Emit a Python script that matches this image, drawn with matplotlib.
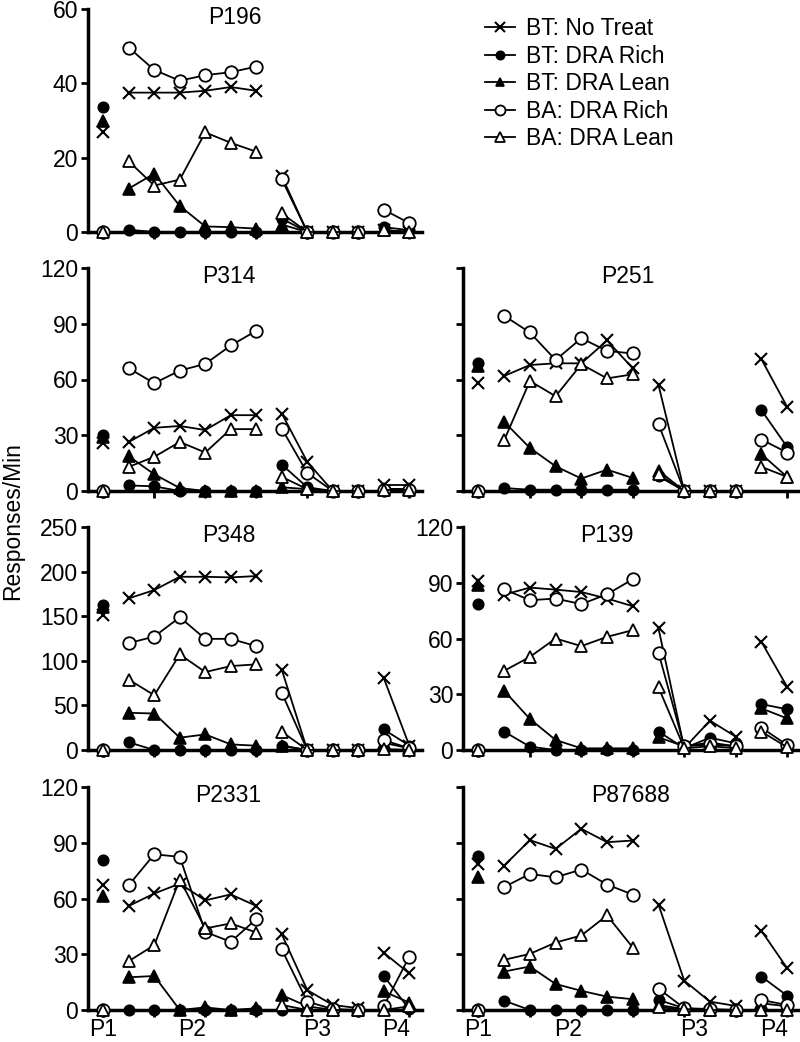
import matplotlib
matplotlib.use('Agg')
import numpy as np
import matplotlib.pyplot as plt
import matplotlib.transforms as mtransforms

plt.rcParams['font.family'] = ['Liberation Sans', 'DejaVu Sans']

# session index: P1 = 0, P2 = 1..6, P3 = 7..10, P4 = 11..12
sessions = np.arange(13)
phase_slices = [(0, 1), (1, 7), (7, 11), (11, 13)]
phase_labels = ['P1', 'P2', 'P3', 'P4']
phase_centers = [0, 3.5, 8.4, 11.5]

series_names = ['BT: No Treat', 'BT: DRA Rich', 'BT: DRA Lean', 'BA: DRA Rich', 'BA: DRA Lean']

p196 = {
    'BT: No Treat': [27, 37.5, 37.5, 37.5, 38, 39, 38, 15, 0, 0, 0, 0.5, 0],
    'BT: DRA Rich': [33.5, 0.6, 0, 0, 0, 0, 0, 3.6, 0, 0, 0, 1.3, 0.5],
    'BT: DRA Lean': [30, 11.7, 15.7, 7, 1.5, 1.3, 0.9, 2, 0, 0, 0, 0.5, 0],
    'BA: DRA Rich': [0, 49.6, 43.6, 40.7, 42.2, 43, 44.5, 14.2, 0, 0, 0, 6, 2.4],
    'BA: DRA Lean': [0, 19, 12.5, 14.1, 26.8, 24, 21.6, 5, 0, 0, 0, 0.5, 0],
}
p314 = {
    'BT: No Treat': [26, 26.4, 34, 35, 32.8, 40.8, 40.8, 41.7, 15.7, 0, 0, 3, 3],
    'BT: DRA Rich': [30, 3, 2.5, 0, 0, 0, 0, 14.2, 2, 0, 0, 1, 1],
    'BT: DRA Lean': [29, 18.7, 9, 1.6, 0, 0, 0, 2, 1, 0, 0, 1, 1],
    'BA: DRA Rich': [0, 66, 58, 64.8, 68.4, 78.3, 86.2, 33.6, 9.7, 0, 0, 0.5, 0.5],
    'BA: DRA Lean': [0, 13, 18.4, 26.4, 20.7, 33.3, 33.3, 7.6, 1, 0, 0, 0.5, 0.5],
}
p251 = {
    'BT: No Treat': [58.3, 61.9, 67.8, 68.7, 68.7, 81, 66, 57, 0, 0, 0, 70.9, 45.3],
    'BT: DRA Rich': [69, 1.6, 0.7, 0.7, 0.7, 0.7, 0.7, 8, 0, 0, 0, 43.5, 23.7],
    'BT: DRA Lean': [67, 37.2, 23.2, 13.3, 6.7, 11.5, 7, 11, 0, 0, 0, 19.8, 7.6],
    'BA: DRA Rich': [0, 94.3, 85.3, 70.5, 82.2, 75.4, 74, 36, 0, 0, 0, 27.7, 20.7],
    'BA: DRA Lean': [0, 27.3, 59.2, 51, 68.2, 60.6, 62.8, 9, 0, 0, 0, 13, 7.6],
}
p348 = {
    'BT: No Treat': [151.8, 170, 179.3, 194.2, 194.2, 193.5, 195, 90, 0, 0, 0, 80.7, 5],
    'BT: DRA Rich': [163, 8.6, 0, 0, 0, 0, 0, 4.5, 0, 0, 0, 23, 5],
    'BT: DRA Lean': [160, 41.7, 40.9, 13.8, 17.5, 6.3, 4.8, 5, 0, 0, 0, 8, 2],
    'BA: DRA Rich': [0, 119.8, 127.2, 148.8, 124.6, 124.6, 116.4, 64, 0, 0, 0, 11, 2],
    'BA: DRA Lean': [0, 78.9, 61.4, 107.1, 87.4, 94.1, 96, 20.5, 0, 0, 0, 1, 0],
}
p139 = {
    'BT: No Treat': [90.8, 83.6, 87.4, 86.3, 85, 81.5, 77.4, 65.4, 1, 15.8, 7.2, 58.2, 34],
    'BT: DRA Rich': [78.8, 9.9, 1.8, 0, 0, 0, 0, 9.9, 1, 6.6, 3.6, 24.7, 21.9],
    'BT: DRA Lean': [88.7, 31.9, 16.7, 5.4, 0.9, 0.9, 0.9, 6.8, 2, 4, 2, 22.4, 17],
    'BA: DRA Rich': [0, 86.5, 80.6, 81.5, 78.5, 83.8, 91.9, 52.3, 2, 3, 2, 12, 2.7],
    'BA: DRA Lean': [0, 42.6, 50.1, 60, 55.9, 60.9, 64.5, 33.7, 1, 2, 1, 9.9, 1.5],
}
p2331 = {
    'BT: No Treat': [67.2, 56, 62.7, 68, 59, 62.2, 56, 40.7, 10.7, 2.7, 1, 30.8, 19.7],
    'BT: DRA Rich': [80.6, 0, 0, 0, 0, 0, 0, 0, 0, 0, 0, 18.3, 0.5],
    'BT: DRA Lean': [61.3, 17.6, 18.3, 0, 1.4, 0, 0.9, 8, 2, 0, 0, 10, 4],
    'BA: DRA Rich': [0, 67.2, 83.8, 82.4, 42, 36.7, 48.9, 32.6, 4.5, 0.5, 0, 2.1, 28.7],
    'BA: DRA Lean': [0, 26.3, 34.9, 70.2, 43.9, 46.6, 41.7, 2.7, 0, 0, 0, 0, 2],
}
p87688 = {
    'BT: No Treat': [78.3, 77.7, 91.4, 86.7, 97.5, 90.3, 91.2, 56.7, 15.8, 4.5, 2.2, 42.6, 22.5],
    'BT: DRA Rich': [82.8, 5, 0, 0, 0, 0, 0, 5.4, 1, 0, 0, 18, 7.7],
    'BT: DRA Lean': [71.6, 20.7, 23.4, 14, 10.3, 7.2, 5.8, 2.7, 0.5, 0, 0, 3.6, 2],
    'BA: DRA Rich': [0, 66.2, 73.2, 71.4, 75.6, 67.5, 62.1, 11.5, 1, 0.5, 0, 5.4, 2.7],
    'BA: DRA Lean': [0, 27, 30.2, 36.3, 40.1, 50.9, 33.6, 1.4, 0.5, 0, 0, 0, 0],
}

styles = {
    'BT: No Treat': dict(marker='x', ms=9, mfc='black', mew=1.5),
    'BT: DRA Rich': dict(marker='o', ms=7.5, mfc='black', mew=1.2),
    'BT: DRA Lean': dict(marker='^', ms=8, mfc='black', mew=1.2),
    'BA: DRA Rich': dict(marker='o', ms=9, mfc='white', mew=1.3),
    'BA: DRA Lean': dict(marker='^', ms=9, mfc='white', mew=1.3),
}

# (title, data, yticks, show ylabels, title x in axes fraction, row, col)
panels = [
    ('P196', p196, [0, 20, 40, 60], True, 0.44, 0, 0),
    ('P314', p314, [0, 30, 60, 90, 120], True, 0.422, 1, 0),
    ('P251', p251, [0, 30, 60, 90, 120], False, 0.49, 1, 1),
    ('P348', p348, [0, 50, 100, 150, 200, 250], True, 0.422, 2, 0),
    ('P139', p139, [0, 30, 60, 90, 120], True, 0.427, 2, 1),
    ('P2331', p2331, [0, 30, 60, 90, 120], True, 0.419, 3, 0),
    ('P87688', p87688, [0, 30, 60, 90, 120], False, 0.496, 3, 1),
]

FS = 16.5
W, H = 800, 1042
fig = plt.figure(figsize=(W / 100, H / 100), dpi=100)

col_px = [(88, 334), (463, 337)]
row_bottom_px = [232, 491, 750, 1010]
ax_h_px = 223

handles = None
for title, data, yticks, show_y, tx, row, col in panels:
    left, width = col_px[col]
    ax = fig.add_axes([left / W, 1 - row_bottom_px[row] / H, width / W, ax_h_px / H])
    hl = []
    for name in series_names:
        vals = np.array(data[name], dtype=float)
        st = styles[name]
        for k, (a, b) in enumerate(phase_slices):
            line, = ax.plot(sessions[a:b], vals[a:b], color='black', lw=1.3,
                            marker=st['marker'], ms=st['ms'], mfc=st['mfc'],
                            mec='black', mew=st['mew'], clip_on=False, zorder=3)
            if k == 1:
                hl.append(line)
    if handles is None:
        handles = hl

    ax.set_xlim(-0.6, 12.5)
    ax.set_ylim(0, yticks[-1])
    ax.set_yticks(yticks)
    if not show_y:
        ax.set_yticklabels([])
    ax.set_xticks(np.arange(0, 13, 2))
    ax.set_xticklabels([])
    if row == 3:
        lab_trans = mtransforms.blended_transform_factory(ax.transData, ax.transAxes)
        lab_trans = lab_trans + mtransforms.ScaledTranslation(0, -8 / 100, fig.dpi_scale_trans)
        for xc, lab in zip(phase_centers, phase_labels):
            ax.text(xc, 0, lab, transform=lab_trans, ha='center', va='top', fontsize=FS)
    for s in ['top', 'right']:
        ax.spines[s].set_visible(False)
    for s in ['left', 'bottom']:
        ax.spines[s].set_linewidth(2.5)
    ax.tick_params(axis='both', which='major', direction='out', length=5, width=2,
                   labelsize=FS, pad=2)
    ax.text(tx, 0.96, title, transform=ax.transAxes, ha='center', va='center', fontsize=FS)

fig.text(0.016, 0.5, 'Responses/Min', rotation=90, ha='center', va='center', fontsize=FS)

fig.legend(handles, series_names, loc='upper left', bbox_to_anchor=(485 / W, 1 - 17 / H),
           frameon=False, fontsize=FS, handlelength=1.3, handletextpad=0.5,
           labelspacing=0.2, borderaxespad=0, borderpad=0, markerscale=0.8)

fig.savefig('out.png', dpi=100)
